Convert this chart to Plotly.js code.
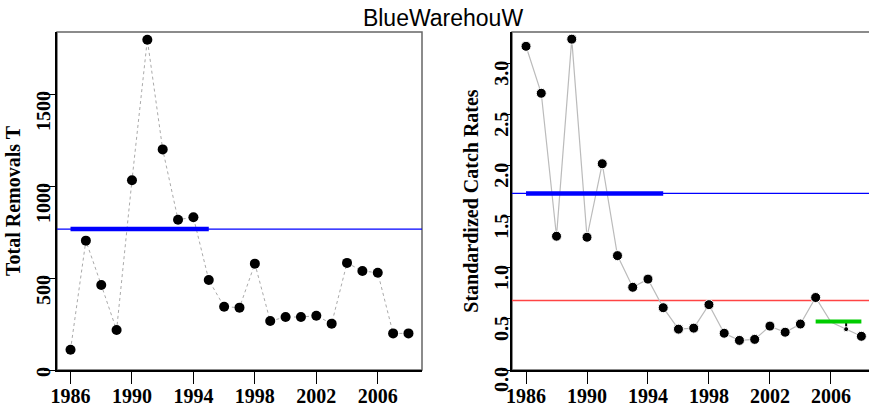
<!DOCTYPE html>
<html>
<head>
<meta charset="utf-8">
<script src="https://cdn.plot.ly/plotly-3.0.1.min.js"></script>
<style>html,body{margin:0;padding:0;background:#fff;}#chart{width:869px;height:410px;}</style>
</head>
<body>
<div id="chart"></div>
<script>
// ---- data ----
var years = [1986,1987,1988,1989,1990,1991,1992,1993,1994,1995,1996,1997,1998,1999,2000,2001,2002,2003,2004,2005,2006,2007,2008];
var removals = [110,703,462,217,1031,1795,1199,817,830,489,344,339,578,266,288,288,295,252,582,538,529,199,199];
var catchRates = [3.17,2.71,1.31,3.24,1.30,2.02,1.12,0.81,0.89,0.61,0.40,0.41,0.64,0.36,0.29,0.30,0.43,0.37,0.45,0.71,0.47,0.40,0.33];
var removalsMean = 766;            // blue reference (left)
var catchMean = 1.729;             // blue reference (right)
var catchLimit = 0.68;             // red reference (right)
var recentMean = 0.474;            // green reference (right)
var refYears = [1986, 1995];       // span of thick blue segments
var recentYears = [2005, 2008];    // span of green segment
var xTicks = [1986,1990,1994,1998,2002,2006];
var leftTicks = [0,500,1000,1500];
var rightTicks = [0,0.5,1,1.5,2,2.5,3];

// marker sizes per point on right panel (2006 not marked, 2007 small)
var rightSizes = years.map(function(y){ return y===2006 ? 0 : (y===2007 ? 5 : 10); });
var stubPlus = years.map(function(y){ return y===2007 ? 0.07 : 0; });
var stubMinus = years.map(function(){ return 0; });

var tickFont = {family:'Liberation Serif', size:20, color:'black', weight:'bold'};
var titleFont = {family:'Liberation Serif', size:20, color:'black', weight:'bold'};

var traces = [
  {x:years, y:removals, xaxis:'x', yaxis:'y', mode:'lines', line:{color:'#aaaaaa', width:1, dash:'dot'}, hoverinfo:'skip'},
  {x:refYears, y:[removalsMean, removalsMean], xaxis:'x', yaxis:'y', mode:'lines', line:{color:'#0000ff', width:4.5}},
  {x:years, y:removals, xaxis:'x', yaxis:'y', mode:'markers', marker:{color:'black', size:10, symbol:'circle', opacity:1}},

  {x:years, y:catchRates, xaxis:'x2', yaxis:'y2', mode:'lines', line:{color:'#bbbbbb', width:1.2}},
  {x:refYears, y:[catchMean, catchMean], xaxis:'x2', yaxis:'y2', mode:'lines', line:{color:'#0000ff', width:4.5}},
  {x:years, y:catchRates, xaxis:'x2', yaxis:'y2', mode:'markers', marker:{color:'black', size:rightSizes, symbol:'circle', opacity:1},
   error_y:{type:'data', symmetric:false, array:stubPlus, arrayminus:stubMinus, width:0, thickness:2, color:'black'}},
  {x:recentYears, y:[recentMean, recentMean], xaxis:'x2', yaxis:'y2', mode:'lines', line:{color:'#00cc00', width:4}}
];

var H = 410, W = 869;
function xa(domain, range, anchor){
  return {domain:domain, range:range, anchor:anchor, tickmode:'array', tickvals:xTicks, ticktext:xTicks.map(String),
    ticks:'outside', ticklen:12, tickwidth:1, tickcolor:'black', showline:true, linecolor:'black', linewidth:2,
    ticklabelstandoff:-5,
    showgrid:false, zeroline:false, tickfont:tickFont, fixedrange:true};
}
function ya(range, anchor, ticks, texts, title, tl){
  return {domain:[(H-370)/H, (H-32)/H], range:range, anchor:anchor, tickmode:'array', tickvals:ticks, ticktext:texts,
    tickangle:-89.9, ticks:'outside', ticklen:tl, tickcolor:'black', showline:true, linecolor:'black', linewidth:2,
    showgrid:false, zeroline:false, tickfont:tickFont, title:{text:title, font:titleFont, standoff:6}};
}
var layout = {
  width:W, height:H, margin:{l:0,r:0,t:0,b:0}, paper_bgcolor:'white', plot_bgcolor:'white',
  showlegend:false,
  title:{text:'BlueWarehouW', font:{family:'Liberation Sans', size:23, color:'black'}, x:443/W, xanchor:'center', y:1-18/H, yanchor:'middle', yref:'container'},
  xaxis: xa([57/W, 422/W], [1985.12, 2008.88], 'y'),
  xaxis2: xa([512/W, 1], [1985.08, 2008.5], 'y2'),
  yaxis: ya([0,1837], 'x', leftTicks, leftTicks.map(String), 'Total Removals T', 11),
  yaxis2: ya([0,3.31], 'x2', rightTicks, rightTicks.map(function(v){return v.toFixed(1);}), 'Standardized Catch Rates', 8),
  shapes:[
    {type:'rect', xref:'x domain', yref:'y domain', x0:0, x1:1, y0:0, y1:1, line:{color:'#666666', width:1.5}, layer:'below'},
    {type:'rect', xref:'x2 domain', yref:'y2 domain', x0:0, x1:1.02, y0:0, y1:1, line:{color:'#666666', width:1.5}, layer:'below'},
    {type:'line', xref:'x domain', yref:'y', x0:0, x1:1, y0:removalsMean, y1:removalsMean, line:{color:'#0000ff', width:1.2}, layer:'below'},
    {type:'line', xref:'x2 domain', yref:'y2', x0:0, x1:1, y0:catchMean, y1:catchMean, line:{color:'#0000ff', width:1.2}, layer:'below'},
    {type:'line', xref:'x2 domain', yref:'y2', x0:0, x1:1, y0:catchLimit, y1:catchLimit, line:{color:'#ff4444', width:1.5}, layer:'below'}
  ]
};

Plotly.newPlot('chart', traces, layout, {staticPlot:true, displayModeBar:false});
</script>
</body>
</html>
